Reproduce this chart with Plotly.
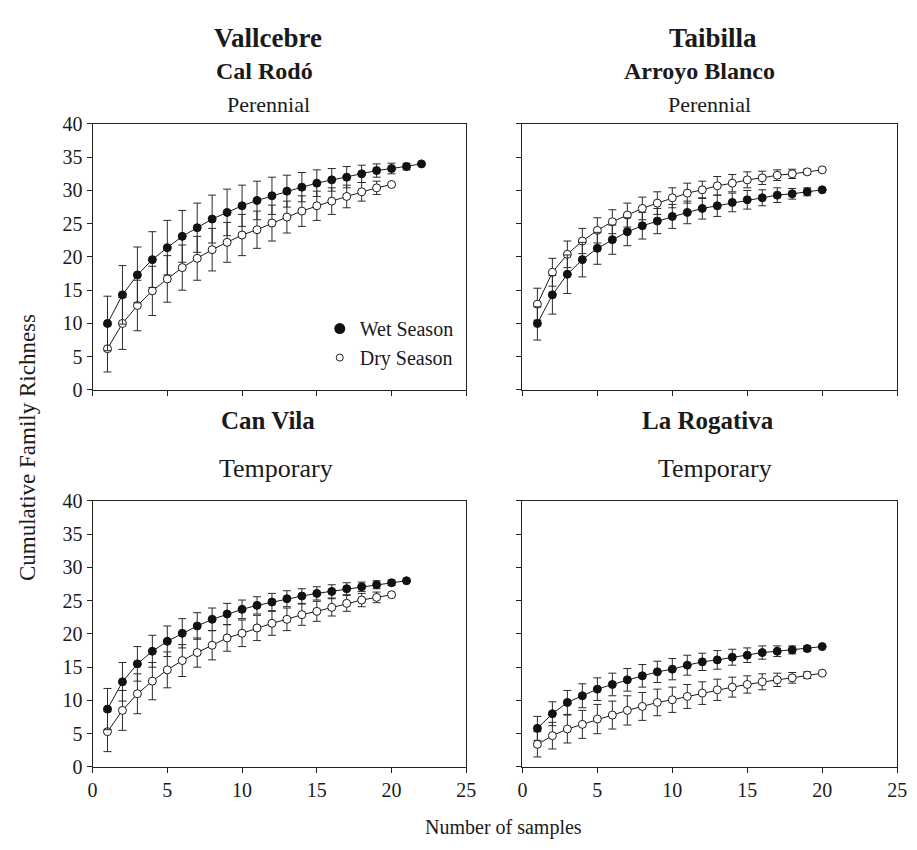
import plotly.graph_objects as go

# ---------------- data ----------------
samples_22 = list(range(1, 23))
samples_21 = list(range(1, 22))
samples_20 = list(range(1, 21))

# Vallcebre - Cal Rodó (Perennial)
cal_wet = [10.0, 14.3, 17.3, 19.6, 21.4, 23.1, 24.4, 25.7, 26.7, 27.7, 28.5, 29.2, 29.9, 30.5, 31.1, 31.6, 32.0, 32.5, 33.0, 33.3, 33.6, 34.0]
cal_wet_err = [4.1, 4.4, 4.2, 4.2, 4.1, 3.9, 3.7, 3.6, 3.5, 3.1, 2.9, 2.8, 2.4, 2.2, 2.0, 1.7, 1.6, 1.3, 1.0, 0.8, 0.5, 0]
cal_dry = [6.2, 10.0, 12.7, 14.9, 16.7, 18.4, 19.8, 21.1, 22.2, 23.3, 24.1, 25.1, 26.0, 26.9, 27.7, 28.4, 29.1, 29.8, 30.4, 30.9]
cal_dry_err = [3.5, 3.9, 3.8, 3.7, 3.5, 3.4, 3.3, 3.2, 3.0, 3.1, 2.8, 2.7, 2.4, 2.3, 2.2, 2.0, 1.7, 1.4, 1.0, 0]

# Taibilla - Arroyo Blanco (Perennial)
arr_wet = [10.0, 14.3, 17.4, 19.6, 21.3, 22.6, 23.8, 24.7, 25.4, 26.1, 26.7, 27.3, 27.7, 28.2, 28.6, 28.9, 29.3, 29.5, 29.8, 30.1]
arr_wet_err = [2.5, 2.9, 2.9, 2.6, 2.4, 2.2, 2.1, 2.0, 1.9, 1.8, 1.7, 1.6, 1.6, 1.4, 1.4, 1.2, 1.1, 0.8, 0.6, 0]
arr_dry = [12.9, 17.7, 20.4, 22.4, 24.0, 25.3, 26.3, 27.3, 28.1, 28.9, 29.6, 30.1, 30.7, 31.1, 31.6, 31.9, 32.3, 32.5, 32.8, 33.1]
arr_dry_err = [2.4, 2.1, 2.0, 1.9, 1.9, 1.8, 1.8, 1.7, 1.7, 1.5, 1.5, 1.3, 1.4, 1.3, 1.2, 1.0, 0.8, 0.7, 0.4, 0]

# Vallcebre - Can Vila (Temporary)
can_wet = [8.7, 12.8, 15.5, 17.4, 18.9, 20.1, 21.2, 22.2, 23.0, 23.7, 24.3, 24.8, 25.3, 25.7, 26.1, 26.4, 26.8, 27.1, 27.4, 27.7, 28.0]
can_wet_err = [3.1, 2.9, 2.6, 2.4, 2.3, 2.2, 2.0, 1.7, 1.6, 1.4, 1.3, 1.3, 1.2, 1.1, 1.0, 1.0, 0.9, 0.7, 0.6, 0.4, 0]
can_dry = [5.3, 8.5, 11.0, 12.9, 14.6, 16.0, 17.2, 18.3, 19.4, 20.1, 20.9, 21.6, 22.2, 22.9, 23.4, 24.0, 24.6, 25.1, 25.5, 25.9]
can_dry_err = [3.0, 3.0, 3.0, 2.8, 2.7, 2.4, 2.2, 2.2, 2.0, 2.0, 1.9, 1.8, 1.7, 1.6, 1.5, 1.3, 1.2, 1.0, 0.8, 0]

# Taibilla - La Rogativa (Temporary)
rog_wet = [5.8, 8.0, 9.7, 10.7, 11.7, 12.4, 13.1, 13.7, 14.3, 14.7, 15.3, 15.8, 16.1, 16.5, 16.8, 17.2, 17.4, 17.6, 17.8, 18.1]
rog_wet_err = [1.8, 1.8, 1.8, 1.8, 1.7, 1.7, 1.7, 1.7, 1.6, 1.6, 1.5, 1.3, 1.4, 1.2, 1.1, 1.0, 0.8, 0.6, 0.4, 0]
rog_dry = [3.4, 4.7, 5.7, 6.4, 7.2, 7.8, 8.5, 9.1, 9.7, 10.1, 10.6, 11.1, 11.6, 12.0, 12.4, 12.8, 13.1, 13.4, 13.8, 14.1]
rog_dry_err = [1.9, 2.0, 2.1, 2.1, 2.2, 2.1, 2.2, 2.1, 2.0, 1.9, 1.8, 1.7, 1.6, 1.5, 1.3, 1.2, 1.0, 0.8, 0.5, 0]

x_ticks = [0, 5, 10, 15, 20, 25]
y_ticks = [0, 5, 10, 15, 20, 25, 30, 35, 40]

# ---------------- layout geometry (pixels) ----------------
W, H = 917, 850
FONT = "Liberation Serif"
TXT = "#1a1a1a"

def px_x(p):
    return p / W

def px_y(p):
    return 1 - p / H

panels = [
    ("x", "y", (89, 469), (116, 389), samples_22, cal_wet, cal_wet_err, samples_20, cal_dry, cal_dry_err),
    ("x2", "y2", (526, 907), (116, 389), samples_20, arr_wet, arr_wet_err, samples_20, arr_dry, arr_dry_err),
    ("x3", "y3", (89, 469), (503, 776), samples_21, can_wet, can_wet_err, samples_20, can_dry, can_dry_err),
    ("x4", "y4", (526, 907), (503, 776), samples_20, rog_wet, rog_wet_err, samples_20, rog_dry, rog_dry_err),
]

fig = go.Figure()
layout_axes = {}

for i, (xa, ya, (xl, xr), (yt, yb), wx, wy, we, dx, dy, de) in enumerate(panels):
    err_style = dict(type="data", symmetric=True, color="#2a2a2a", thickness=1, width=4)
    fig.add_trace(go.Scatter(
        x=dx, y=dy, xaxis=xa, yaxis=ya, mode="lines+markers", showlegend=False,
        line=dict(color="#1a1a1a", width=1),
        marker=dict(symbol="circle", size=8, color="white", line=dict(color="#1a1a1a", width=1)),
        error_y=dict(array=de, **err_style),
    ))
    fig.add_trace(go.Scatter(
        x=wx, y=wy, xaxis=xa, yaxis=ya, mode="lines+markers", showlegend=False,
        line=dict(color="#1a1a1a", width=1),
        marker=dict(symbol="circle", size=8, color="#111111", line=dict(color="#111111", width=1)),
        error_y=dict(array=we, **err_style),
    ))
    n = "" if i == 0 else str(i + 1)
    common = dict(showgrid=False, zeroline=False, showline=True, linecolor="#222222", linewidth=1,
                  mirror=True, ticks="outside", ticklen=5, tickwidth=1, tickcolor="#222222",
                  tickfont=dict(family=FONT, size=20, color=TXT))
    layout_axes["xaxis" + n] = dict(domain=[px_x(xl), px_x(xr)], range=[0, 25], tickvals=x_ticks,
                                    anchor="y" + n, showticklabels=(i >= 2), **common)
    layout_axes["yaxis" + n] = dict(domain=[px_y(yb), px_y(yt)], range=[0, 40], tickvals=y_ticks,
                                    anchor="x" + n, showticklabels=(i % 2 == 0), **common)

# legend-only traces (markers only)
fig.add_trace(go.Scatter(x=[None], y=[None], mode="markers", name="Wet Season",
                         marker=dict(symbol="circle", size=11, color="#111111")))
fig.add_trace(go.Scatter(x=[None], y=[None], mode="markers", name="Dry Season",
                         marker=dict(symbol="circle", size=7, color="white", line=dict(color="#1a1a1a", width=1))))

annotations = []

def add_text(text, cx, cy, size, bold=False):
    annotations.append(dict(
        text=("<b>%s</b>" % text) if bold else text, x=px_x(cx), y=px_y(cy),
        xref="paper", yref="paper", xanchor="center", yanchor="middle", showarrow=False,
        font=dict(family=FONT, size=size, color=TXT)))

add_text("Vallcebre", 267, 28, 27, True)
add_text("Cal Rodó", 264, 62, 24, True)
add_text("Perennial", 268, 96, 22)
add_text("Taibilla", 720, 28, 27, True)
add_text("Arroyo Blanco", 706, 62, 24, True)
add_text("Perennial", 716, 96, 22)
add_text("Can Vila", 267, 420, 25, True)
add_text("Temporary", 276, 470, 26)
add_text("La Rogativa", 715, 420, 25, True)
add_text("Temporary", 722, 470, 26)
add_text("Number of samples", 507, 838, 20)
annotations.append(dict(text="Cumulative Family Richness", x=px_x(23), y=px_y(448), xref="paper", yref="paper",
                        xanchor="center", yanchor="middle", showarrow=False, textangle=-90,
                        font=dict(family=FONT, size=23, color=TXT)))

fig.update_layout(
    width=W, height=H, margin=dict(l=0, r=0, t=0, b=0),
    paper_bgcolor="white", plot_bgcolor="white",
    annotations=annotations,
    legend=dict(x=px_x(320), y=px_y(306), xanchor="left", yanchor="top",
                bgcolor="rgba(0,0,0,0)", font=dict(family=FONT, size=20, color=TXT),
                itemwidth=30, tracegroupgap=0),
    **layout_axes,
)

# remove the browser's default 8px body margin so the figure sits at the page origin
fig.write_html("out.html", config={"displayModeBar": False},
               post_script="document.body.style.margin='0';document.body.style.overflow='hidden';")
